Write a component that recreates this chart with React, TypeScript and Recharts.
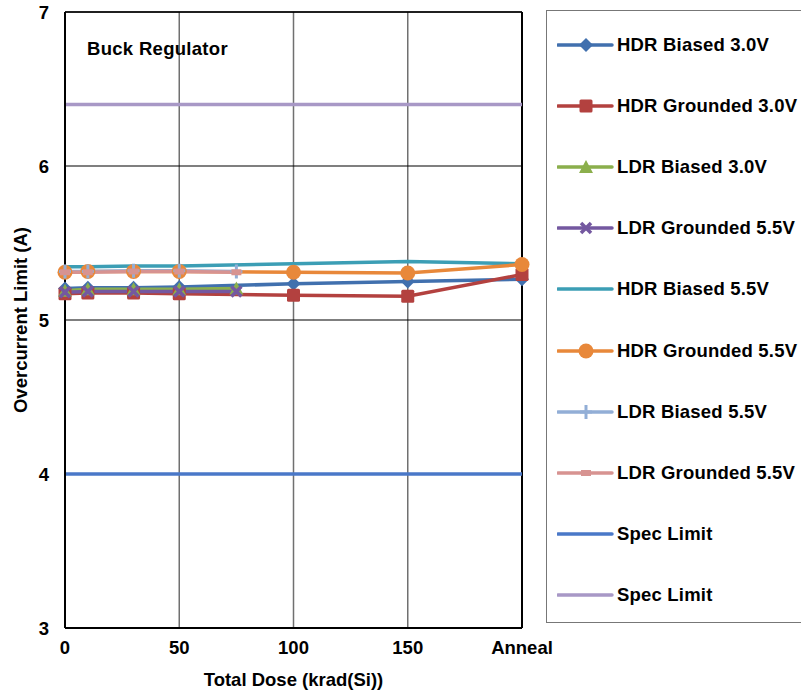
import React from 'react';
import { CartesianGrid, Line, LineChart, ReferenceLine, XAxis, YAxis } from 'recharts';

const FONT = '"Liberation Sans", Arial, sans-serif';

// dose points (Anneal plotted at 200)
const hdrDose = [0, 10, 30, 50, 100, 150, 200];
const ldrDose = [0, 10, 30, 50, 75];
const specDose = [0, 200];
const xTicks = [0, 50, 100, 150, 200];
const yTicks = [3, 4, 5, 6, 7];

const hdrBiased30 = [5.205, 5.21, 5.21, 5.215, 5.235, 5.25, 5.265];
const hdrGrounded30 = [5.17, 5.175, 5.175, 5.17, 5.16, 5.155, 5.295];
const ldrBiased30 = [5.19, 5.2, 5.2, 5.2, 5.205];
const ldrGrounded55a = [5.18, 5.185, 5.185, 5.185, 5.185];
const hdrBiased55 = [5.345, 5.345, 5.35, 5.35, 5.365, 5.38, 5.365];
const hdrGrounded55 = [5.31, 5.315, 5.315, 5.315, 5.31, 5.305, 5.36];
const ldrBiased55 = [5.315, 5.315, 5.32, 5.32, 5.315];
const ldrGrounded55b = [5.31, 5.31, 5.315, 5.315, 5.31];
const specLow = [4, 4];
const specHigh = [6.4, 6.4];

const toPoints = (xs: number[], ys: number[]) => xs.map((x, i) => ({ x, y: ys[i] }));

type Shape = 'diamond' | 'square' | 'triangle' | 'x' | 'none' | 'circle' | 'plus' | 'dash';

const series: { name: string; color: string; shape: Shape; data: { x: number; y: number }[] }[] = [
  { name: 'HDR Biased 3.0V', color: '#4170AE', shape: 'diamond', data: toPoints(hdrDose, hdrBiased30) },
  { name: 'HDR Grounded 3.0V', color: '#B3413F', shape: 'square', data: toPoints(hdrDose, hdrGrounded30) },
  { name: 'LDR Biased 3.0V', color: '#8BAF4C', shape: 'triangle', data: toPoints(ldrDose, ldrBiased30) },
  { name: 'LDR Grounded 5.5V', color: '#7458A0', shape: 'x', data: toPoints(ldrDose, ldrGrounded55a) },
  { name: 'HDR Biased 5.5V', color: '#3C9EB5', shape: 'none', data: toPoints(hdrDose, hdrBiased55) },
  { name: 'HDR Grounded 5.5V', color: '#E8883A', shape: 'circle', data: toPoints(hdrDose, hdrGrounded55) },
  { name: 'LDR Biased 5.5V', color: '#92AED6', shape: 'plus', data: toPoints(ldrDose, ldrBiased55) },
  { name: 'LDR Grounded 5.5V', color: '#D79391', shape: 'dash', data: toPoints(ldrDose, ldrGrounded55b) },
  { name: 'Spec Limit', color: '#4A78C8', shape: 'none', data: toPoints(specDose, specLow) },
  { name: 'Spec Limit', color: '#A898C6', shape: 'none', data: toPoints(specDose, specHigh) },
];

function marker(shape: Shape, color: string, cx: number, cy: number, key?: string) {
  switch (shape) {
    case 'diamond':
      return <polygon key={key} points={`${cx},${cy - 7} ${cx + 7},${cy} ${cx},${cy + 7} ${cx - 7},${cy}`} fill={color} />;
    case 'square':
      return <rect key={key} x={cx - 6.5} y={cy - 6.5} width={13} height={13} rx={1.5} fill={color} />;
    case 'triangle':
      return <polygon key={key} points={`${cx},${cy - 7} ${cx + 7},${cy + 6} ${cx - 7},${cy + 6}`} fill={color} />;
    case 'x':
      return (
        <g key={key} stroke={color} strokeWidth={3.5}>
          <line x1={cx - 5} y1={cy - 5} x2={cx + 5} y2={cy + 5} />
          <line x1={cx - 5} y1={cy + 5} x2={cx + 5} y2={cy - 5} />
        </g>
      );
    case 'circle':
      return <circle key={key} cx={cx} cy={cy} r={7.5} fill={color} />;
    case 'plus':
      return (
        <g key={key} stroke={color} strokeWidth={3}>
          <line x1={cx} y1={cy - 7} x2={cx} y2={cy + 7} />
          <line x1={cx - 6} y1={cy} x2={cx + 6} y2={cy} />
        </g>
      );
    case 'dash':
      return <rect key={key} x={cx - 5} y={cy - 3} width={10} height={6} fill={color} />;
    default:
      return <g key={key} />;
  }
}

const makeDot = (shape: Shape, color: string, id: number) => (props: any) => {
  const { cx, cy, index } = props;
  if (cx == null || cy == null) return <g key={`d${id}-${index}`} />;
  return marker(shape, color, cx, cy, `d${id}-${index}`);
};

function LegendBox() {
  return (
    <div
      style={{
        position: 'absolute',
        left: 546,
        top: 10,
        width: 260,
        height: 613,
        border: '1.5px solid #777',
        boxSizing: 'border-box',
        fontFamily: FONT,
      }}
    >
      {series.map((s, i) => (
        <div
          key={i}
          style={{
            position: 'absolute',
            left: 10,
            top: 34 + i * 61.1 - 12,
            height: 24,
            display: 'flex',
            alignItems: 'center',
            whiteSpace: 'nowrap',
          }}
        >
          <svg width={58} height={24} style={{ display: 'block' }}>
            <line x1={1} y1={12} x2={55} y2={12} stroke={s.color} strokeWidth={3.5} strokeLinecap="round" />
            {marker(s.shape, s.color, 29, 12)}
          </svg>
          <span style={{ fontSize: 18.5, fontWeight: 700, color: '#000', marginLeft: 2, letterSpacing: 0.2 }}>
            {s.name}
          </span>
        </div>
      ))}
    </div>
  );
}

const axisText = { fontSize: 18.5, fontWeight: 700, fill: '#000', fontFamily: FONT };

export default function App() {
  return (
    <div style={{ position: 'absolute', left: 0, top: 0, width: 801, height: 695, background: '#fff' }}>
      <LineChart width={801} height={695} margin={{ top: 12, right: 279, bottom: 0, left: 0 }}>
        <CartesianGrid horizontal={false} stroke="#707070" strokeWidth={1.5} />
        <CartesianGrid vertical={false} stroke="#000" strokeWidth={1.2} />
        <XAxis
          type="number"
          dataKey="x"
          domain={[0, 200]}
          ticks={xTicks}
          height={67}
          tickSize={0}
          tickMargin={13}
          axisLine={{ stroke: '#000', strokeWidth: 2 }}
          tickFormatter={(v: number) => (v === 200 ? 'Anneal' : String(v))}
          tick={axisText}
          label={{
            value: 'Total Dose (krad(Si))',
            position: 'insideBottom',
            offset: 9,
            ...axisText,
          }}
        />
        <YAxis
          type="number"
          dataKey="y"
          domain={[3, 7]}
          ticks={yTicks}
          width={65}
          tickSize={0}
          tickMargin={16}
          axisLine={{ stroke: '#000', strokeWidth: 2 }}
          tick={axisText}
          label={{
            value: 'Overcurrent Limit (A)',
            angle: -90,
            position: 'insideLeft',
            offset: 20,
            style: { textAnchor: 'middle' },
            ...axisText,
          }}
        />
        <ReferenceLine x={200} stroke="#000" strokeWidth={2} />
        <ReferenceLine y={7} stroke="#000" strokeWidth={1.5} />
        {series.map((s, i) => (
          <Line
            key={i}
            data={s.data}
            dataKey="y"
            name={s.name}
            type="linear"
            stroke={s.color}
            strokeWidth={3.5}
            dot={s.shape === 'none' ? false : makeDot(s.shape, s.color, i)}
            activeDot={false}
            isAnimationActive={false}
          />
        ))}
      </LineChart>
      <div
        style={{
          position: 'absolute',
          left: 87,
          top: 39,
          lineHeight: '20px',
          fontFamily: FONT,
          fontSize: 18.5,
          fontWeight: 700,
          letterSpacing: 0.3,
          color: '#000',
        }}
      >
        Buck Regulator
      </div>
      <LegendBox />
    </div>
  );
}
